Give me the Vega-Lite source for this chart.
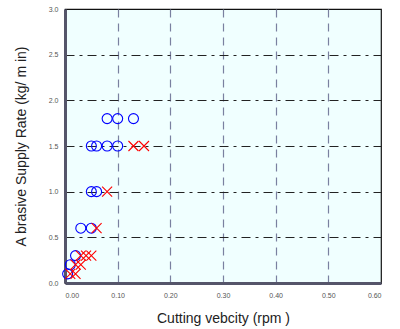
{
  "$schema": "https://vega.github.io/schema/vega-lite/v6.json",
  "autosize": "none",
  "width": 316,
  "height": 274,
  "padding": {"left": 65, "top": 9, "right": 19, "bottom": 46},
  "background": "white",
  "config": {
    "view": {"fill": "#f0ffff", "stroke": "#111111", "strokeWidth": 1.2},
    "font": "Liberation Sans"
  },
  "data": {
    "values": [
      {"v": 0.08, "r": 1.8, "s": "o"},
      {"v": 0.10, "r": 1.8, "s": "o"},
      {"v": 0.13, "r": 1.8, "s": "o"},
      {"v": 0.05, "r": 1.5, "s": "o"},
      {"v": 0.06, "r": 1.5, "s": "o"},
      {"v": 0.08, "r": 1.5, "s": "o"},
      {"v": 0.10, "r": 1.5, "s": "o"},
      {"v": 0.05, "r": 1.0, "s": "o"},
      {"v": 0.06, "r": 1.0, "s": "o"},
      {"v": 0.03, "r": 0.6, "s": "o"},
      {"v": 0.05, "r": 0.6, "s": "o"},
      {"v": 0.02, "r": 0.3, "s": "o"},
      {"v": 0.01, "r": 0.2, "s": "o"},
      {"v": 0.005, "r": 0.1, "s": "o"},
      {"v": 0.13, "r": 1.5, "s": "x"},
      {"v": 0.15, "r": 1.5, "s": "x"},
      {"v": 0.08, "r": 1.0, "s": "x"},
      {"v": 0.06, "r": 0.6, "s": "x"},
      {"v": 0.03, "r": 0.3, "s": "x"},
      {"v": 0.04, "r": 0.3, "s": "x"},
      {"v": 0.05, "r": 0.3, "s": "x"},
      {"v": 0.02, "r": 0.2, "s": "x"},
      {"v": 0.03, "r": 0.2, "s": "x"},
      {"v": 0.01, "r": 0.1, "s": "x"},
      {"v": 0.02, "r": 0.1, "s": "x"}
    ]
  },
  "mark": {"type": "point", "filled": false, "size": 100, "strokeWidth": 1.1, "opacity": 1},
  "encoding": {
    "x": {
      "field": "v", "type": "quantitative",
      "scale": {"domain": [0, 0.6], "nice": false, "zero": false},
      "axis": {
        "values": [0, 0.1, 0.2, 0.3, 0.4, 0.5, 0.6],
        "format": ".2f",
        "title": "Cutting vebcity (rpm )",
        "titleFontSize": 14, "titleFontWeight": "normal", "titleColor": "#222222",
        "titlePadding": 13,
        "labelFontSize": 7, "labelColor": "#555555", "labelPadding": 8,
        "ticks": false,
        "domainColor": "#55556a", "domainWidth": 3,
        "grid": true, "gridColor": "#7a80a0", "gridWidth": 1.2, "gridDash": [8, 6],
        "gridOpacity": {"condition": {"test": "datum.value === 0 || datum.value === 0.6", "value": 0}, "value": 1}
      }
    },
    "y": {
      "field": "r", "type": "quantitative",
      "scale": {"domain": [0, 3], "nice": false, "zero": false},
      "axis": {
        "values": [0, 0.5, 1, 1.5, 2, 2.5, 3],
        "format": ".1f",
        "title": "A brasive Supply Rate   (kg/ m in)",
        "titleFontSize": 14, "titleFontWeight": "normal", "titleColor": "#222222",
        "titlePadding": 20,
        "labelFontSize": 7, "labelColor": "#555555", "labelPadding": 7,
        "ticks": false,
        "domainColor": "#55556a", "domainWidth": 3,
        "grid": true, "gridColor": "#222222", "gridWidth": 1, "gridDash": [9, 5, 3, 5],
        "gridOpacity": {"condition": {"test": "datum.value === 0 || datum.value === 3", "value": 0}, "value": 1}
      }
    },
    "shape": {
      "field": "s", "type": "nominal",
      "scale": {"domain": ["o", "x"], "range": ["circle", "M-1,-1L1,1M-1,1L1,-1"]},
      "legend": null
    },
    "color": {
      "field": "s", "type": "nominal",
      "scale": {"domain": ["o", "x"], "range": ["#0000ff", "#ff0000"]},
      "legend": null
    }
  }
}
